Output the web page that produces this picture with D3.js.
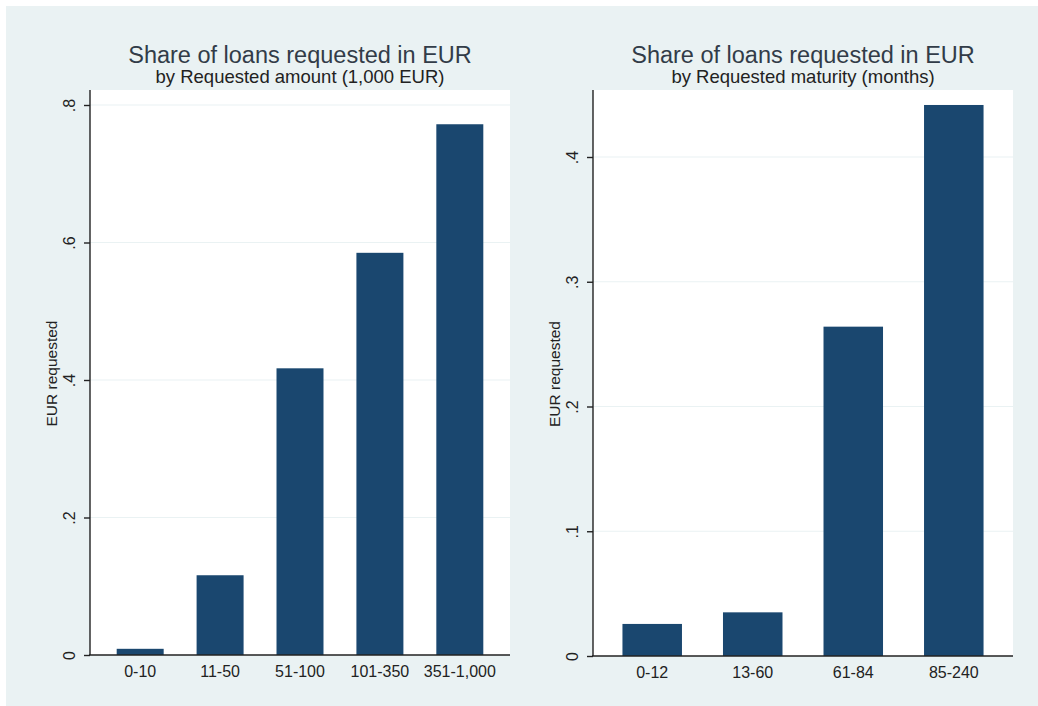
<!DOCTYPE html>
<html><head><meta charset="utf-8">
<script src="https://cdn.jsdelivr.net/npm/d3@7"></script>
<style>html,body{margin:0;padding:0;background:#fff;}svg{display:block;}</style>
</head><body>
<svg id="chart" width="1038" height="706"></svg>
<script>
const amountCategories = ["0-10", "11-50", "51-100", "101-350", "351-1,000"];
const amountValues = [0.009, 0.116, 0.417, 0.585, 0.772];
const amountTicks = [0, 0.2, 0.4, 0.6, 0.8];
const amountTickLabels = ["0", ".2", ".4", ".6", ".8"];

const maturityCategories = ["0-12", "13-60", "61-84", "85-240"];
const maturityValues = [0.0257, 0.035, 0.264, 0.4417];
const maturityTicks = [0, 0.1, 0.2, 0.3, 0.4];
const maturityTickLabels = ["0", ".1", ".2", ".3", ".4"];

const titles = ["Share of loans requested in EUR", "Share of loans requested in EUR"];
const subtitles = ["by Requested amount (1,000 EUR)", "by Requested maturity (months)"];
const yTitle = "EUR requested";

const svg = d3.select("#chart");
const FONT = "'Liberation Sans', Arial, sans-serif";
const BG = "#eaf2f3", BAR = "#1a476f";

svg.append("rect").attr("width", 1038).attr("height", 706).attr("fill", BG);
svg.append("rect").attr("width", 1038).attr("height", 6).attr("fill", "#fff");
svg.append("rect").attr("width", 6).attr("height", 706).attr("fill", "#fff");

const panels = [
  {cats: amountCategories, vals: amountValues, ticks: amountTicks, labels: amountTickLabels,
   x0: 90, x1: 510, yTop: 90, yBase: 655, topTick: 0.8, topTickY: 105, pi: 0.412, po: 0.334,
   title: titles[0], sub: subtitles[0]},
  {cats: maturityCategories, vals: maturityValues, ticks: maturityTicks, labels: maturityTickLabels,
   x0: 593, x1: 1013, yTop: 90, yBase: 656, topTick: 0.4, topTickY: 157, pi: 0.408, po: 0.293,
   title: titles[1], sub: subtitles[1]}
];

panels.forEach(p => {
  const g = svg.append("g");
  const yMax = p.topTick * (p.yBase - p.yTop) / (p.yBase - p.topTickY);
  const y = d3.scaleLinear().domain([0, yMax]).range([p.yBase, p.yTop]);
  const x = d3.scaleBand().domain(p.cats).range([p.x0, p.x1]).paddingInner(p.pi).paddingOuter(p.po);

  // plot region
  g.append("rect").attr("x", p.x0).attr("y", p.yTop).attr("width", p.x1 - p.x0)
    .attr("height", p.yBase - p.yTop).attr("fill", "#fff");

  // gridlines
  g.selectAll(".grid").data(p.ticks.filter(t => t > 0)).enter().append("line")
    .attr("x1", p.x0).attr("x2", p.x1)
    .attr("y1", d => y(d)).attr("y2", d => y(d))
    .attr("stroke", BG).attr("stroke-width", 1.2);

  // bars
  g.selectAll(".bar").data(p.vals).enter().append("rect")
    .attr("x", (d, i) => x(p.cats[i])).attr("width", x.bandwidth())
    .attr("y", d => y(d)).attr("height", d => p.yBase - y(d))
    .attr("fill", BAR);

  // y axis
  const yAxis = d3.axisLeft(y).tickValues(p.ticks).tickSize(6)
    .tickFormat((d, i) => p.labels[i]);
  const ya = g.append("g").attr("transform", `translate(${p.x0},0)`).call(yAxis);
  ya.select(".domain").remove();
  ya.append("line").attr("x1", 0).attr("x2", 0).attr("y1", p.yTop).attr("y2", p.yBase)
    .attr("stroke", "#222").attr("stroke-width", 1.4);
  ya.selectAll(".tick line").attr("stroke", "#222").attr("stroke-width", 1.4);
  ya.selectAll(".tick text")
    .attr("x", null).attr("dy", null)
    .attr("transform", "translate(-15,0) rotate(-90)")
    .attr("text-anchor", "middle")
    .attr("font-family", FONT).attr("font-size", 16).attr("fill", "#222");

  // x axis
  const xAxis = d3.axisBottom(x).tickSize(0).tickPadding(0);
  const xa = g.append("g").attr("transform", `translate(0,${p.yBase})`).call(xAxis);
  xa.select(".domain").remove();
  xa.append("line").attr("x1", p.x0 - 1).attr("x2", p.x1).attr("y1", 0).attr("y2", 0)
    .attr("stroke", "#222").attr("stroke-width", 1.4);
  xa.selectAll(".tick text").attr("y", 22).attr("dy", null)
    .attr("font-family", FONT).attr("font-size", 16).attr("fill", "#222");

  // y title
  g.append("text")
    .attr("transform", `translate(${p.x0 - 33},${(p.yTop + p.yBase) / 2 + 1}) rotate(-90)`)
    .attr("text-anchor", "middle").attr("font-family", FONT).attr("font-size", 15.5)
    .attr("fill", "#222").text(yTitle);

  // titles
  const cx = (p.x0 + p.x1) / 2;
  g.append("text").attr("x", cx).attr("y", 63).attr("text-anchor", "middle")
    .attr("font-family", FONT).attr("font-size", 23.5).attr("fill", "#323c48").text(p.title);
  g.append("text").attr("x", cx).attr("y", 83).attr("text-anchor", "middle")
    .attr("font-family", FONT).attr("font-size", 18.5).attr("fill", "#222").text(p.sub);
});
</script>
</body></html>
